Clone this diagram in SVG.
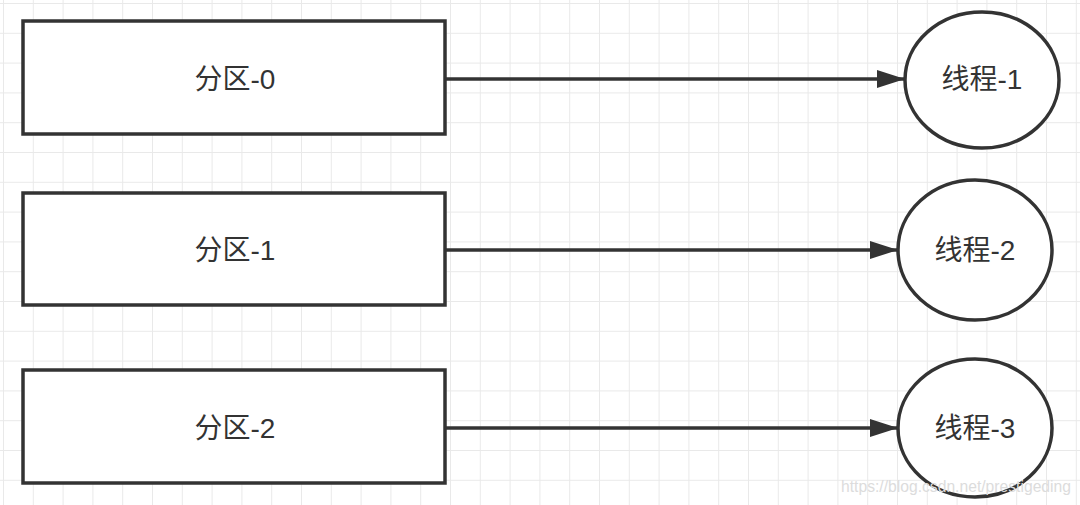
<svg xmlns="http://www.w3.org/2000/svg" width="1080" height="505" viewBox="0 0 1080 505">
<defs>
<pattern id="grid" x="3" y="3" width="29.8" height="29.8" patternUnits="userSpaceOnUse">
<path d="M0 0 H29.8 M0 0 V29.8" fill="none" stroke="#e9e9e9" stroke-width="2"/>
</pattern>
<marker id="ah" viewBox="0 0 28 18" refX="28" refY="9" markerWidth="28" markerHeight="18" markerUnits="userSpaceOnUse" orient="auto">
<path d="M0 0 L28 9 L0 18 Z" fill="#333"/>
</marker>
</defs>
<style>
.box{fill:#fff;stroke:#333;stroke-width:3.5}
.circ{fill:#fff;stroke:#333;stroke-width:3.5}
.lbl{font-family:"Liberation Sans","Noto Sans CJK SC",sans-serif;font-size:28px;fill:#333;text-anchor:middle;dominant-baseline:central}
.edge{stroke:#333;stroke-width:3.5;fill:none}
.wm{font-family:"Liberation Sans",sans-serif;font-size:16px;fill:#dcdcdc}
</style>
<rect width="1080" height="505" fill="#fff"/>
<rect width="1080" height="505" fill="url(#grid)"/>
<g id="p0"><rect class="box" x="23" y="21" width="422" height="113"/><text class="lbl" x="235" y="79">分区-0</text></g>
<g id="p1"><rect class="box" x="23" y="193" width="422" height="112"/><text class="lbl" x="235" y="250">分区-1</text></g>
<g id="p2"><rect class="box" x="23" y="370" width="422" height="113"/><text class="lbl" x="235" y="428">分区-2</text></g>
<g id="t1"><ellipse class="circ" cx="982" cy="80" rx="77" ry="68"/><text class="lbl" x="982" y="79">线程-1</text></g>
<g id="t2"><ellipse class="circ" cx="975" cy="250" rx="77" ry="70"/><text class="lbl" x="975" y="250">线程-2</text></g>
<g id="t3"><ellipse class="circ" cx="975" cy="428" rx="77" ry="69"/><text class="lbl" x="975" y="428">线程-3</text></g>
<g id="edges">
<line class="edge" x1="445" y1="79" x2="905" y2="79" marker-end="url(#ah)"/>
<line class="edge" x1="445" y1="250" x2="898" y2="250" marker-end="url(#ah)"/>
<line class="edge" x1="445" y1="428" x2="898" y2="428" marker-end="url(#ah)"/>
</g>
<text class="wm" x="841" y="492" textLength="230" lengthAdjust="spacingAndGlyphs">https://blog.csdn.net/prestigeding</text>
</svg>
